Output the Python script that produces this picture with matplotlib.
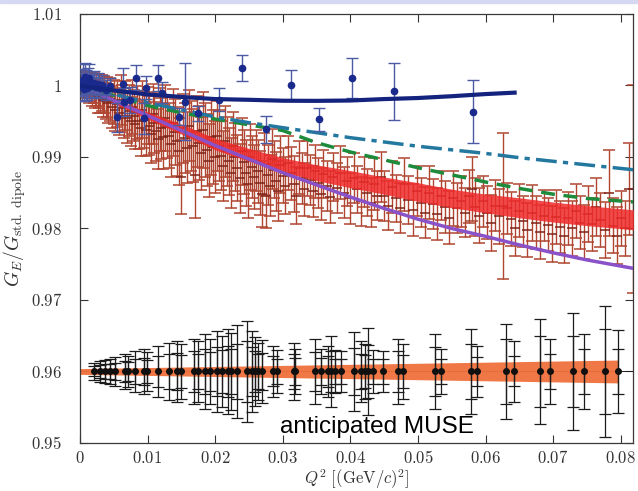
import matplotlib
matplotlib.use("Agg")
import matplotlib.pyplot as plt
import numpy as np

plt.rcParams['mathtext.fontset'] = 'cm'
plt.rcParams['font.family'] = ['DejaVu Serif']

# Mainz-like data (red): Q^2, G_E/G_dipole, error
red_q2 = [0.0004, 0.0006, 0.0008, 0.0010, 0.0012, 0.0014, 0.0016, 0.0018, 0.0020, 0.0022,
          0.0024, 0.0026, 0.0028, 0.0030, 0.0032, 0.0034, 0.0036, 0.0038, 0.0040, 0.0042,
          0.0045, 0.0047, 0.0050, 0.0052, 0.0055, 0.0057, 0.0060, 0.0062, 0.0065, 0.0067,
          0.0070, 0.0072, 0.0075, 0.0077, 0.0080, 0.0082, 0.0085, 0.0087, 0.0090, 0.0092,
          0.0095, 0.0097, 0.0100, 0.0102, 0.0105, 0.0108, 0.0110, 0.0113, 0.0115, 0.0118,
          0.0120, 0.0123, 0.0126, 0.0128, 0.0131, 0.0134, 0.0137, 0.0140, 0.0143, 0.0146,
          0.0149, 0.0152, 0.0155, 0.0158, 0.0161, 0.0164, 0.0167, 0.0170, 0.0173, 0.0176,
          0.0179, 0.0182, 0.0185, 0.0188, 0.0191, 0.0194, 0.0197, 0.0200, 0.0203, 0.0206,
          0.0209, 0.0212, 0.0215, 0.0218, 0.0221, 0.0224, 0.0227, 0.0230, 0.0233, 0.0236,
          0.0239, 0.0242, 0.0245, 0.0248, 0.0251, 0.0254, 0.0257, 0.0260, 0.0263, 0.0266,
          0.0269, 0.0272, 0.0275, 0.0278, 0.0281, 0.0284, 0.0287, 0.0290, 0.0293, 0.0296,
          0.0300, 0.0304, 0.0308, 0.0312, 0.0316, 0.0320, 0.0324, 0.0328, 0.0332, 0.0336,
          0.0340, 0.0344, 0.0348, 0.0352, 0.0356, 0.0360, 0.0365, 0.0370, 0.0375, 0.0380,
          0.0385, 0.0390, 0.0395, 0.0400, 0.0405, 0.0410, 0.0415, 0.0420, 0.0425, 0.0430,
          0.0435, 0.0440, 0.0445, 0.0450, 0.0456, 0.0462, 0.0468, 0.0474, 0.0480, 0.0486,
          0.0492, 0.0498, 0.0504, 0.0510, 0.0516, 0.0522, 0.0528, 0.0534, 0.0540, 0.0546,
          0.0552, 0.0558, 0.0564, 0.0570, 0.0576, 0.0580, 0.0585, 0.0590, 0.0596, 0.0602,
          0.0608, 0.0614, 0.0620, 0.0626, 0.0632, 0.0638, 0.0644, 0.0650, 0.0656, 0.0662,
          0.0668, 0.0674, 0.0680, 0.0686, 0.0692, 0.0698, 0.0704, 0.0710, 0.0716, 0.0722,
          0.0728, 0.0734, 0.0740, 0.0746, 0.0752, 0.0758, 0.0764, 0.0770, 0.0776, 0.0782,
          0.0788, 0.0794, 0.0800, 0.0806, 0.0812, 0.0818]
red_ge = [1.0003, 0.9998, 1.0005, 0.9995, 1.0001, 0.9993, 0.9999, 0.9990, 0.9996, 0.9988,
          0.9994, 0.9985, 0.9992, 0.9983, 0.9990, 0.9980, 0.9987, 0.9978, 0.9984, 0.9975,
          0.9981, 0.9970, 0.9977, 0.9966, 0.9974, 0.9962, 0.9980, 0.9968, 0.9958, 0.9972,
          0.9955, 0.9965, 0.9950, 0.9970, 0.9958, 0.9946, 0.9962, 0.9950, 0.9940, 0.9966,
          0.9952, 0.9938, 0.9958, 0.9944, 0.9932, 0.9960, 0.9948, 0.9936, 0.9925, 0.9952,
          0.9940, 0.9928, 0.9955, 0.9942, 0.9930, 0.9918, 0.9948, 0.9935, 0.9922, 0.9908,
          0.9872, 0.9940, 0.9926, 0.9913, 0.9944, 0.9930, 0.9916, 0.9875, 0.9936, 0.9920,
          0.9905, 0.9938, 0.9924, 0.9910, 0.9895, 0.9928, 0.9914, 0.9900, 0.9930, 0.9916,
          0.9902, 0.9888, 0.9922, 0.9908, 0.9894, 0.9878, 0.9915, 0.9900, 0.9885, 0.9870,
          0.9908, 0.9893, 0.9878, 0.9862, 0.9900, 0.9886, 0.9872, 0.9895, 0.9880, 0.9864,
          0.9848, 0.9890, 0.9845, 0.9875, 0.9860, 0.9897, 0.9882, 0.9866, 0.9852, 0.9889,
          0.9874, 0.9860, 0.9892, 0.9877, 0.9862, 0.9846, 0.9885, 0.9870, 0.9855, 0.9884,
          0.9868, 0.9852, 0.9880, 0.9864, 0.9848, 0.9876, 0.9860, 0.9844, 0.9872, 0.9856,
          0.9878, 0.9850, 0.9866, 0.9842, 0.9870, 0.9855, 0.9838, 0.9865, 0.9850, 0.9836,
          0.9862, 0.9846, 0.9872, 0.9845, 0.9832, 0.9858, 0.9842, 0.9828, 0.9862, 0.9840,
          0.9826, 0.9852, 0.9836, 0.9822, 0.9850, 0.9834, 0.9820, 0.9846, 0.9830, 0.9815,
          0.9842, 0.9828, 0.9838, 0.9822, 0.9845, 0.9855, 0.9830, 0.9818, 0.9838, 0.9822,
          0.9808, 0.9832, 0.9817, 0.9832, 0.9828, 0.9813, 0.9800, 0.9825, 0.9810, 0.9798,
          0.9822, 0.9808, 0.9795, 0.9818, 0.9805, 0.9792, 0.9816, 0.9802, 0.9790, 0.9814,
          0.9800, 0.9824, 0.9808, 0.9795, 0.9820, 0.9806, 0.9830, 0.9812, 0.9798, 0.9850,
          0.9804, 0.9790, 0.9814, 0.9800, 0.9855, 0.9855]
red_err = [0.0012, 0.0015, 0.0014, 0.0016, 0.0018, 0.0017, 0.0020, 0.0019, 0.0021, 0.0020,
           0.0022, 0.0023, 0.0024, 0.0022, 0.0025, 0.0024, 0.0026, 0.0025, 0.0028, 0.0027,
           0.0030, 0.0029, 0.0031, 0.0030, 0.0032, 0.0031, 0.0035, 0.0033, 0.0032, 0.0034,
           0.0035, 0.0036, 0.0034, 0.0038, 0.0036, 0.0035, 0.0037, 0.0039, 0.0038, 0.0040,
           0.0039, 0.0037, 0.0040, 0.0041, 0.0040, 0.0042, 0.0043, 0.0041, 0.0042, 0.0044,
           0.0043, 0.0045, 0.0046, 0.0044, 0.0045, 0.0046, 0.0047, 0.0046, 0.0048, 0.0047,
           0.0052, 0.0048, 0.0049, 0.0050, 0.0050, 0.0049, 0.0051, 0.0060, 0.0050, 0.0052,
           0.0051, 0.0053, 0.0052, 0.0050, 0.0051, 0.0053, 0.0052, 0.0050, 0.0049, 0.0050,
           0.0048, 0.0049, 0.0050, 0.0048, 0.0047, 0.0049, 0.0048, 0.0047, 0.0046, 0.0048,
           0.0047, 0.0045, 0.0046, 0.0047, 0.0046, 0.0044, 0.0045, 0.0043, 0.0044, 0.0045,
           0.0046, 0.0043, 0.0045, 0.0042, 0.0043, 0.0042, 0.0040, 0.0041, 0.0042, 0.0040,
           0.0039, 0.0040, 0.0038, 0.0037, 0.0039, 0.0040, 0.0037, 0.0036, 0.0037, 0.0038,
           0.0035, 0.0036, 0.0037, 0.0035, 0.0036, 0.0034, 0.0035, 0.0036, 0.0034, 0.0035,
           0.0037, 0.0036, 0.0034, 0.0036, 0.0035, 0.0033, 0.0034, 0.0035, 0.0033, 0.0034,
           0.0036, 0.0034, 0.0035, 0.0035, 0.0034, 0.0036, 0.0033, 0.0035, 0.0037, 0.0034,
           0.0036, 0.0035, 0.0034, 0.0036, 0.0037, 0.0035, 0.0036, 0.0034, 0.0036, 0.0037,
           0.0038, 0.0035, 0.0036, 0.0034, 0.0037, 0.0045, 0.0040, 0.0038, 0.0036, 0.0037,
           0.0039, 0.0036, 0.0038, 0.0102, 0.0036, 0.0038, 0.0039, 0.0037, 0.0036, 0.0038,
           0.0039, 0.0037, 0.0038, 0.0036, 0.0037, 0.0039, 0.0038, 0.0036, 0.0038, 0.0037,
           0.0039, 0.0038, 0.0037, 0.0038, 0.0039, 0.0037, 0.0040, 0.0038, 0.0039, 0.0060,
           0.0038, 0.0040, 0.0039, 0.0038, 0.0064, 0.0145]

# blue data points
blue_q2 = [0.0001, 0.0003, 0.0005, 0.0006, 0.0008, 0.0009, 0.0011, 0.0012, 0.0014, 0.0015,
           0.0017, 0.0019, 0.0021, 0.0023, 0.0026, 0.0029, 0.0033, 0.0038, 0.0045,
           0.0054, 0.0063, 0.0065, 0.0074, 0.0083, 0.0094, 0.0098, 0.0116, 0.0121, 0.0146,
           0.0155, 0.0175, 0.0206, 0.0239, 0.0275, 0.0312, 0.0353, 0.0403, 0.0465, 0.0581]
blue_ge = [1.0005, 0.9998, 1.0008, 0.9995, 1.0012, 1.0001, 0.9997, 1.0006, 1.0010, 0.9999,
           1.0003, 1.0000, 1.0004, 0.9998, 1.0002, 0.9996, 1.0001, 0.9994, 0.9999,
           0.99555, 1.0002, 0.9977, 0.9980, 1.0011, 0.9954, 0.9997, 1.0010, 0.9990, 0.99564,
           0.99773, 0.9961, 0.9980, 1.0024, 0.9939, 1.0001, 0.9953, 1.0010, 0.9992, 0.9963]
blue_err = [0.0018, 0.0020, 0.0022, 0.0016, 0.0019, 0.0021, 0.0017, 0.0018, 0.0020, 0.0016,
            0.0015, 0.0017, 0.0016, 0.0014, 0.0015, 0.0014, 0.0013, 0.0014, 0.0012,
            0.0020, 0.0022, 0.0020, 0.0018, 0.0018, 0.0022, 0.0016, 0.0018, 0.0015, 0.0012,
            0.0054, 0.0010, 0.0016, 0.0018, 0.0019, 0.0021, 0.0016, 0.0028, 0.0040, 0.0044]

# fit curves
curve_q2 = [0.0, 0.005, 0.01, 0.015, 0.02, 0.025, 0.03, 0.035, 0.04, 0.045,
            0.05, 0.055, 0.06, 0.065, 0.07, 0.075, 0.082]
navy_q2 = [0.0, 0.005, 0.01, 0.015, 0.02, 0.025, 0.03, 0.035, 0.04, 0.045,
           0.05, 0.055, 0.06, 0.0643]
navy_ge = [1.0, 0.9993, 0.99875, 0.9984, 0.9981, 0.9980, 0.99787, 0.99785, 0.9979, 0.9981,
           0.99825, 0.9985, 0.9988, 0.9990]
teal_ge = [1.0, 0.9988, 0.9976, 0.9966, 0.9956, 0.9948, 0.9941, 0.9934, 0.9927, 0.9921,
           0.9915, 0.9910, 0.9905, 0.9899, 0.9894, 0.9889, 0.9882]
green_ge = [1.0, 0.9986, 0.9972, 0.9962, 0.9953, 0.9945, 0.9937, 0.9920, 0.9907, 0.9896,
            0.9885, 0.9875, 0.9865, 0.9856, 0.9848, 0.9842, 0.9837]
red_fit = [1.0, 0.9978, 0.9958, 0.9939, 0.9918, 0.9903, 0.9889, 0.9878, 0.9869, 0.9860,
           0.9851, 0.9842, 0.9835, 0.9829, 0.9823, 0.9818, 0.9812]
red_band = [0.0, 0.0003, 0.0005, 0.0007, 0.0008, 0.0009, 0.0010, 0.0011, 0.0012, 0.0012,
            0.0013, 0.0013, 0.0013, 0.0014, 0.0014, 0.0014, 0.0014]
purple_ge = [1.0, 0.9979, 0.9958, 0.9937, 0.9916, 0.9897, 0.9878, 0.9861, 0.9844, 0.9828,
             0.9813, 0.9800, 0.9789, 0.9777, 0.9766, 0.9756, 0.9744]

# anticipated MUSE points at 0.96
muse_q2 = [0.0020, 0.0030, 0.0037, 0.0044, 0.0052, 0.0067, 0.0071, 0.0081, 0.0094, 0.0099,
           0.0116, 0.0131, 0.0143, 0.0150, 0.0168, 0.0175, 0.0185, 0.0192, 0.0202, 0.0210,
           0.0219, 0.0224, 0.0232, 0.0247, 0.0254, 0.0259, 0.0264, 0.0269, 0.0286, 0.0291,
           0.0316, 0.0318, 0.0348, 0.0357, 0.0367, 0.0372, 0.0377, 0.0386, 0.0406, 0.0416,
           0.0421, 0.0426, 0.0434, 0.0448, 0.0470, 0.0478, 0.0525, 0.0534, 0.0578, 0.0587,
           0.0630, 0.0642, 0.0680, 0.0695, 0.0729, 0.0746, 0.0776, 0.0796]
muse_err_tot = [0.0012, 0.0015, 0.0016, 0.0018, 0.0020, 0.0025, 0.0022, 0.0028, 0.0031, 0.0027,
                0.0036, 0.0040, 0.0043, 0.0038, 0.0046, 0.0042, 0.0052, 0.0045, 0.0057, 0.0050,
                0.0060, 0.0054, 0.0065, 0.0070, 0.0056, 0.0048, 0.0040, 0.0044, 0.0035, 0.0030,
                0.0040, 0.0032, 0.0045, 0.0032, 0.0036, 0.0049, 0.0030, 0.0028, 0.0055, 0.0042,
                0.0038, 0.0061, 0.0030, 0.0028, 0.0046, 0.0038, 0.0052, 0.0032, 0.0059, 0.0036,
                0.0066, 0.0042, 0.0074, 0.0046, 0.0082, 0.0052, 0.0091, 0.0058]
muse_err_stat = [0.0007, 0.0009, 0.0010, 0.0011, 0.0012, 0.0015, 0.0013, 0.0017, 0.0019, 0.0016,
                 0.0022, 0.0024, 0.0026, 0.0023, 0.0028, 0.0025, 0.0031, 0.0027, 0.0034, 0.0030,
                 0.0036, 0.0032, 0.0039, 0.0042, 0.0034, 0.0029, 0.0024, 0.0026, 0.0021, 0.0018,
                 0.0024, 0.0019, 0.0027, 0.0019, 0.0022, 0.0029, 0.0018, 0.0017, 0.0033, 0.0025,
                 0.0023, 0.0037, 0.0018, 0.0017, 0.0028, 0.0023, 0.0034, 0.0017, 0.0038, 0.0020,
                 0.0045, 0.0021, 0.0049, 0.0025, 0.0049, 0.0031, 0.0060, 0.0032]
muse_level = 0.96
muse_band_q2 = [0.0, 0.02, 0.04, 0.06, 0.0796]
muse_band_half = [0.0004, 0.0007, 0.0010, 0.0013, 0.0016]

fig = plt.figure(figsize=(6.38, 4.91), dpi=100)
fig.patches.append(plt.Rectangle((0, 0.994), 1, 0.006, transform=fig.transFigure,
                                 color='#d6d8f2', zorder=0))
ax = fig.add_axes([0.1254, 0.0978, 0.8666, 0.8737])

# red data
ax.errorbar(red_q2, red_ge, yerr=red_err, fmt='_', ms=7, mew=1.1, color='#7e2418',
            ecolor='#b04632', elinewidth=1.0, capsize=4, capthick=1.0, zorder=2)

# fits
rf = np.array(red_fit)
rb = np.array(red_band)
ax.fill_between(curve_q2, rf - rb, rf + rb, color='#ee2a2a', alpha=0.85, lw=0, zorder=3)
ax.plot(curve_q2, purple_ge, color='#8a52c8', lw=2.5, zorder=4)
ax.plot(curve_q2, green_ge, color='#1e8a3c', lw=2.5, ls=(0, (4, 2.5)), zorder=4)
ax.plot(curve_q2, teal_ge, color='#2478a0', lw=2.5, ls=(0, (6, 1.8, 1.5, 1.8)), zorder=4)

# blue data
ax.errorbar(blue_q2, blue_ge, yerr=blue_err, fmt='o', ms=4.5, color='#1a2a8c',
            ecolor='#4c5aa4', elinewidth=1.0, capsize=4, capthick=1.0, zorder=5)
ax.plot(navy_q2, navy_ge, color='#14247e', lw=3, zorder=6)

# MUSE projection
ax.axhline(muse_level, color='#202020', lw=0.7, zorder=2)
mb = np.array(muse_band_half)
ax.fill_between(muse_band_q2, muse_level - mb, muse_level + mb, color='#f0703c',
                alpha=0.95, lw=0, zorder=2)
muse_ge = [muse_level for _ in muse_q2]
ax.errorbar(muse_q2, muse_ge, yerr=muse_err_tot, fmt='none', ecolor='#1c1c1c',
            elinewidth=0.9, capsize=4, capthick=0.9, zorder=3)
ax.errorbar(muse_q2, muse_ge, yerr=muse_err_stat, fmt='o', ms=4, color='#101010',
            ecolor='#1c1c1c', elinewidth=0.9, capsize=4, capthick=0.9, zorder=4)

ax.text(0.0296, 0.95144, 'anticipated MUSE', family='Liberation Sans', fontsize=17.5,
        ha='left', va='baseline', zorder=7)

ax.set_xlim(0, 0.0818)
ax.set_ylim(0.95, 1.01)
xt = [0, 0.01, 0.02, 0.03, 0.04, 0.05, 0.06, 0.07, 0.08]
yt = [0.95, 0.96, 0.97, 0.98, 0.99, 1.0, 1.01]
ax.set_xticks(xt)
ax.set_xticklabels(['$0$'] + ['$%.2f$' % v for v in xt[1:]])
ax.set_yticks(yt)
ax.set_yticklabels(['$0.95$', '$0.96$', '$0.97$', '$0.98$', '$0.99$', '$1$', '$1.01$'])
ax.tick_params(direction='in', length=6, width=0.8, top=True, right=True,
               labelsize=12, colors='#333333')
ax.tick_params(axis='y', pad=13)
ax.tick_params(axis='x', pad=5)
for s in ax.spines.values():
    s.set_color('#3c3a38')
    s.set_linewidth(0.9)

ax.set_xlabel(r'$Q^2\ [(\mathrm{GeV}/c)^2]$', fontsize=12, color='#333333', labelpad=0)
ax.set_ylabel(r'$G_E/G_{\mathrm{std.\ dipole}}$', fontsize=14, color='#333333', labelpad=2)

fig.savefig('out.png', dpi=100)
